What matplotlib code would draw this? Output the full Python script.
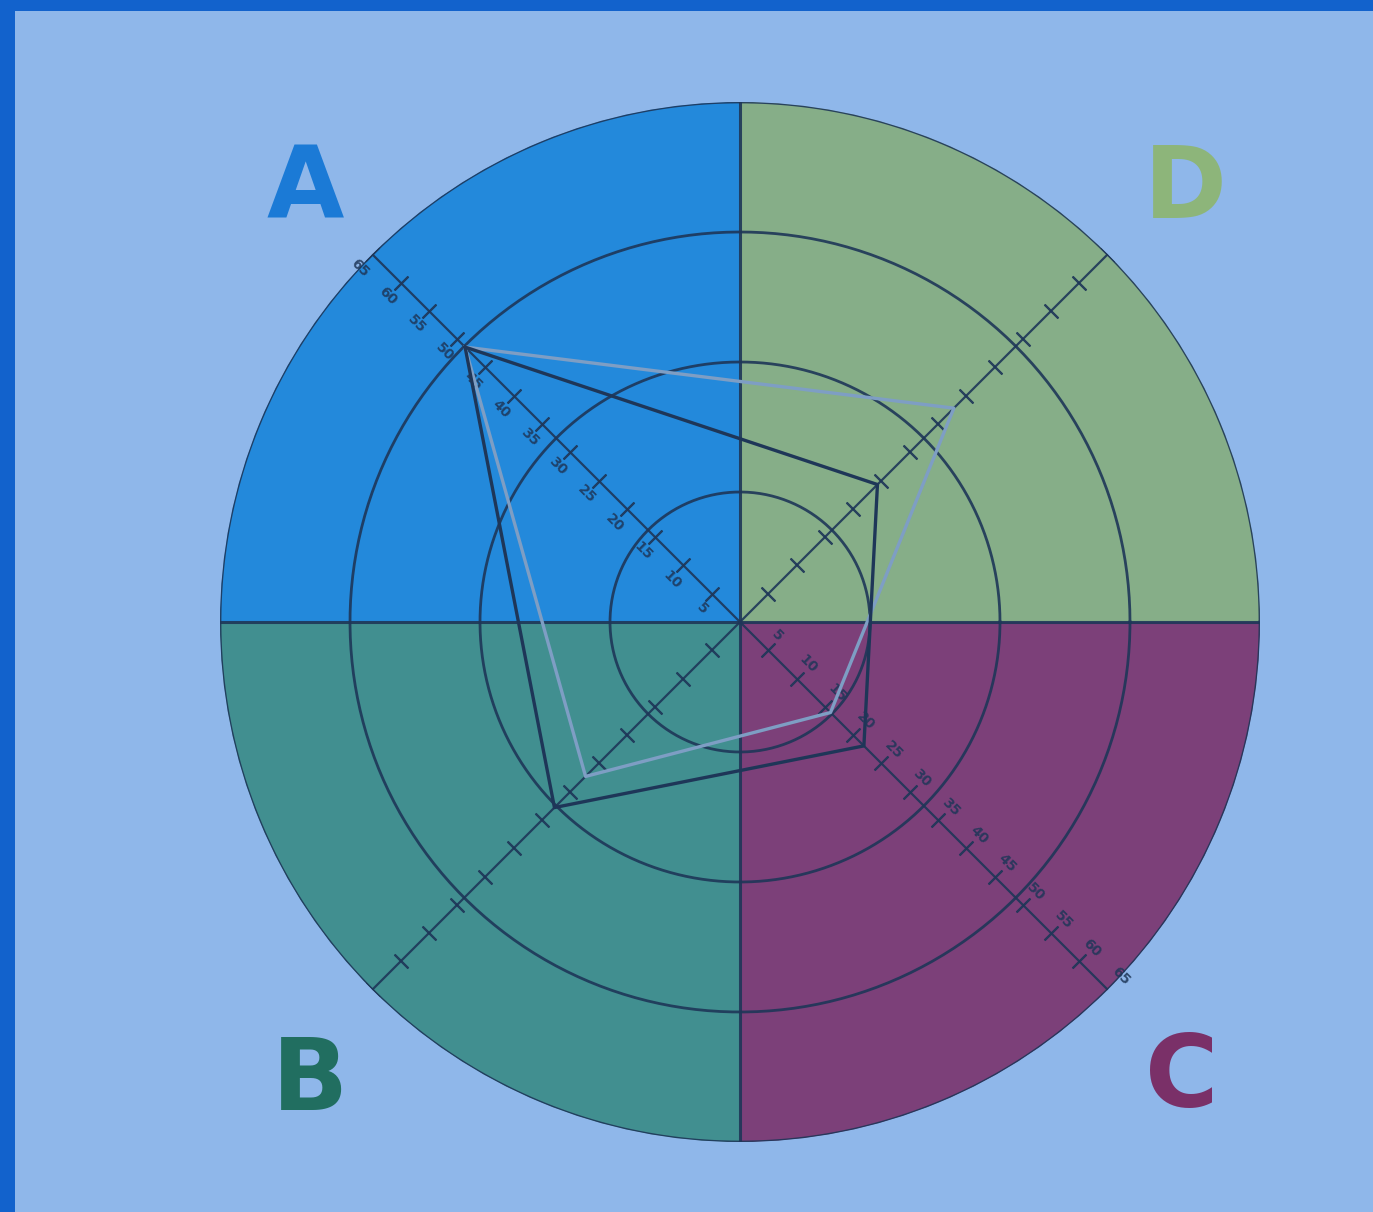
import numpy as np
import matplotlib
matplotlib.use("Agg")
import matplotlib.pyplot as plt
from matplotlib.patches import Rectangle

# quadrant names and angles (deg, counter-clockwise from east)
quadrants = ["A", "D", "C", "B"]
axis_angles = [135, 45, 315, 225]
quad_colors = ["#2389DB", "#86AE88", "#7C4079", "#418F90"]
letter_colors = ["#1B7AD6", "#8DB57A", "#7A3068", "#216E60"]

# radial scale
r_max = 65
tick_values = list(range(5, 70, 5))
tick_labels = [str(v) for v in tick_values]
ring_values = [16.25, 32.5, 48.75, 65]

# two series, values in order A, D, C, B
dark_series = [48.6, 24.3, 21.9, 32.8]
light_series = [48.6, 37.8, 16.0, 27.3]

line_dark = "#1E3658"
line_light = "#7E9EC4"

fig = plt.figure(figsize=(13.73, 12.12), dpi=100)
fig.patch.set_facecolor("#1262CC")
fig.patches.append(Rectangle((15 / 1373, 0), 1, (1212 - 11) / 1212,
                             transform=fig.transFigure, facecolor="#8FB7EA",
                             edgecolor="none", zorder=-5))

ax = fig.add_axes([220 / 1373, 70 / 1212, 1040 / 1373, 1040 / 1212],
                  projection="polar")
ax.set_zorder(2)
ax.set_facecolor("none")
ax.set_ylim(0, r_max)
ax.set_xticks([])
ax.set_yticks([])
ax.grid(False)
ax.spines["polar"].set_visible(False)

# coloured quadrants
ax.bar(np.deg2rad(axis_angles), [r_max] * 4, width=np.pi / 2,
       color=quad_colors, edgecolor="none", zorder=1)

# rings
th = np.linspace(0, 2 * np.pi, 400)
for rv in ring_values:
    ax.plot(th, [rv] * len(th), color=line_dark, lw=2.0, alpha=0.9, zorder=3)

# horizontal / vertical dividers
for a in [0, 90, 180, 270]:
    ax.plot([np.deg2rad(a)] * 2, [0, r_max], color=line_dark, lw=2.2,
            alpha=0.9, zorder=3)

# diagonal axes with tick marks
for a in axis_angles:
    ax.plot([np.deg2rad(a)] * 2, [0, r_max], color=line_dark, lw=1.6,
            alpha=0.9, zorder=3)
    ax.plot([np.deg2rad(a)] * len(tick_values), tick_values, linestyle="none",
            marker=(2, 2, a), markersize=14, markeredgewidth=1.5,
            color=line_dark, alpha=0.9, zorder=3)

# tick labels along A and C axes
for a in [135, 315]:
    for v, lab in zip(tick_values, tick_labels):
        off = np.arctan2(2.3, v)
        ax.text(np.deg2rad(a) + off, v, lab, fontsize=10, fontweight="bold",
                color=line_dark, alpha=0.85, rotation=-45, ha="center",
                va="center", zorder=3)

# series polygons
theta = np.deg2rad(axis_angles + axis_angles[:1])
ax.plot(theta, light_series + light_series[:1], color=line_light, lw=2.4,
        zorder=4)
ax.plot(theta, dark_series + dark_series[:1], color=line_dark, lw=2.4,
        zorder=5)

# quadrant letters
letter_pos = [(305, 190), (1185, 190), (1182, 1080), (310, 1083)]
for q, c, (px, py) in zip(quadrants, letter_colors, letter_pos):
    fig.text(px / 1373, 1 - py / 1212, q, fontsize=72, fontweight="heavy",
             color=c, ha="center", va="center")

fig.savefig("out.png", dpi=100, facecolor=fig.get_facecolor())
